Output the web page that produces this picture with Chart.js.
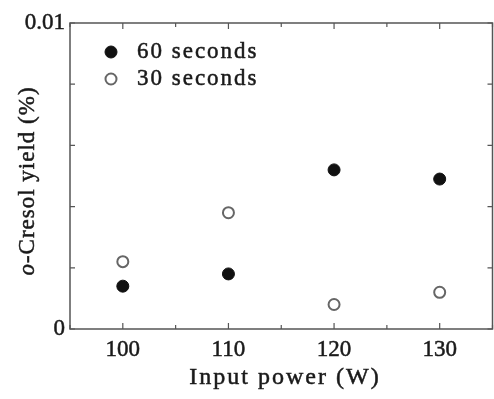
<!DOCTYPE html>
<html>
<head>
<meta charset="utf-8">
<script src="https://cdn.jsdelivr.net/npm/chart.js@4/dist/chart.umd.min.js"></script>
<style>
html,body{margin:0;padding:0;background:#fff;overflow:hidden;}
#wrap{position:absolute;left:0;top:0;width:500px;height:399px;}
</style>
</head>
<body>
<div id="wrap"><canvas id="c" width="500" height="399"></canvas></div>
<script>
const inputPower = [100, 110, 120, 130];
const yield60 = [0.0014, 0.0018, 0.0052, 0.0049];
const yield30 = [0.0022, 0.0038, 0.0008, 0.0012];
const seriesLabels = ['60 seconds', '30 seconds'];
const xTickLabels = [100, 110, 120, 130];
const yTickLabels = ['0', '0.01'];
const xTitle = 'Input power (W)';
const yTitleItalic = 'o';
const yTitleRest = '-Cresol yield (%)';

const SERIF = '"Liberation Serif", "Times New Roman", serif';
const AXIS = '#555';
const TEXT = '#1a1a1a';
const STROKE = 0.5;

function heavyText(ctx, txt, x, y) {
  ctx.lineWidth = STROKE;
  ctx.strokeStyle = TEXT;
  ctx.fillStyle = TEXT;
  ctx.fillText(txt, x, y);
  ctx.strokeText(txt, x, y);
}

const frameTicks = {
  id: 'frameTicks',
  afterDraw(chart) {
    const ctx = chart.ctx, a = chart.chartArea;
    const xs = chart.scales.x, ys = chart.scales.y;
    ctx.save();
    ctx.strokeStyle = AXIS;
    ctx.lineWidth = 1.5;
    ctx.strokeRect(a.left, a.top, a.right - a.left, a.bottom - a.top);
    ctx.lineWidth = 1.2;
    xs.ticks.forEach(t => {
      const px = xs.getPixelForValue(t.value);
      const len = (t.value % 10 === 0) ? 6 : 4;
      ctx.beginPath();
      ctx.moveTo(px, a.bottom); ctx.lineTo(px, a.bottom - len);
      ctx.moveTo(px, a.top); ctx.lineTo(px, a.top + len);
      ctx.stroke();
    });
    ys.ticks.forEach(t => {
      const py = ys.getPixelForValue(t.value);
      ctx.beginPath();
      ctx.moveTo(a.left, py); ctx.lineTo(a.left + 5, py);
      ctx.moveTo(a.right, py); ctx.lineTo(a.right - 5, py);
      ctx.stroke();
    });
    ctx.restore();

    // x title
    ctx.save();
    ctx.letterSpacing = '2px';
    ctx.font = '24px ' + SERIF;
    ctx.textAlign = 'center';
    ctx.textBaseline = 'middle';
    heavyText(ctx, xTitle, 285, 378);
    ctx.restore();

    // y title
    ctx.save();
    ctx.translate(28, (a.top + a.bottom) / 2 + 5);
    ctx.rotate(-Math.PI / 2);
    ctx.textBaseline = 'middle';
    ctx.letterSpacing = '1px';
    ctx.font = 'italic 23px ' + SERIF;
    const w1 = ctx.measureText(yTitleItalic).width;
    ctx.font = '23px ' + SERIF;
    const w2 = ctx.measureText(yTitleRest).width;
    let sx = -(w1 + w2) / 2;
    ctx.font = 'italic 23px ' + SERIF;
    ctx.textAlign = 'left';
    heavyText(ctx, yTitleItalic, sx, 0);
    ctx.font = '23px ' + SERIF;
    heavyText(ctx, yTitleRest, sx + w1, 0);
    ctx.restore();

    // legend
    ctx.save();
    ctx.letterSpacing = '2px';
    ctx.font = '23px ' + SERIF;
    ctx.textBaseline = 'middle';
    chart.data.datasets.forEach((ds, i) => {
      const y = 52 + i * 27;
      ctx.beginPath();
      ctx.arc(111, y, ds.pointRadius, 0, Math.PI * 2);
      ctx.fillStyle = ds.pointBackgroundColor;
      ctx.fill();
      ctx.lineWidth = ds.pointBorderWidth;
      ctx.strokeStyle = ds.pointBorderColor;
      ctx.stroke();
      heavyText(ctx, ds.label, 137, y);
    });
    ctx.restore();
  }
};

new Chart(document.getElementById('c'), {
  type: 'scatter',
  data: {
    datasets: [
      {
        label: seriesLabels[0],
        data: inputPower.map((x, i) => ({x, y: yield60[i]})),
        pointRadius: 6,
        pointBackgroundColor: '#111',
        pointBorderColor: '#111',
        pointBorderWidth: 1
      },
      {
        label: seriesLabels[1],
        data: inputPower.map((x, i) => ({x, y: yield30[i]})),
        pointRadius: 5.5,
        pointBackgroundColor: '#fff',
        pointBorderColor: '#666',
        pointBorderWidth: 2
      }
    ]
  },
  options: {
    responsive: false,
    animation: false,
    events: [],
    layout: {padding: {top: 23, right: 4, left: 0, bottom: 0}},
    plugins: {
      legend: {display: false},
      tooltip: {enabled: false},
      title: {display: false}
    },
    scales: {
      x: {
        type: 'linear',
        min: 95, max: 135,
        grid: {display: false, drawTicks: false},
        border: {display: false},
        ticks: {
          stepSize: 5,
          padding: 7,
          color: TEXT,
          textStrokeColor: TEXT,
          textStrokeWidth: STROKE,
          font: {family: SERIF, size: 23},
          maxRotation: 0,
          autoSkip: false,
          callback: v => xTickLabels.includes(v) ? String(v) : ''
        },
        afterFit: s => { s.height = 70; }
      },
      y: {
        type: 'linear',
        min: 0, max: 0.01,
        grid: {display: false, drawTicks: false},
        border: {display: false},
        ticks: {
          stepSize: 0.002,
          padding: 5,
          color: TEXT,
          textStrokeColor: TEXT,
          textStrokeWidth: STROKE,
          font: {family: SERIF, size: 23},
          autoSkip: false,
          callback: v => Math.abs(v) < 1e-9 ? yTickLabels[0] : (Math.abs(v - 0.01) < 1e-9 ? yTickLabels[1] : '')
        },
        afterFit: s => { s.width = 70; }
      }
    }
  },
  plugins: [frameTicks]
});
</script>
</body>
</html>
